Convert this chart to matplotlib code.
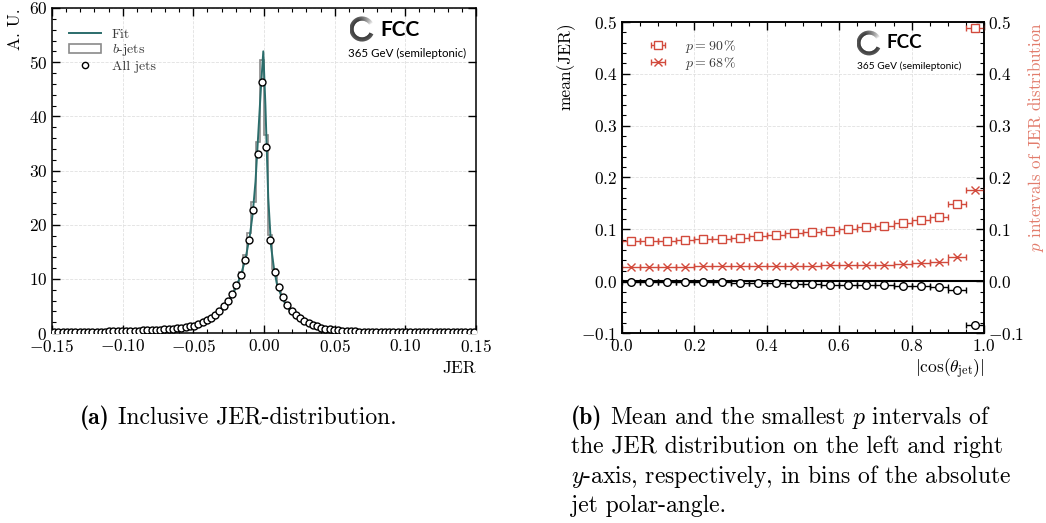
import numpy as np
import matplotlib
matplotlib.use("Agg")
import matplotlib.pyplot as plt
from matplotlib.collections import LineCollection
from matplotlib.patches import Patch
from matplotlib.lines import Line2D
from matplotlib.ticker import MultipleLocator

plt.rcParams.update({
    'font.family': 'serif',
    'font.serif': ['cmr10'],
    'mathtext.fontset': 'cm',
    'axes.formatter.use_mathtext': True,
    'axes.linewidth': 1.1,
})

# ---------------- data: left panel ----------------
jer_edges_lo, jer_edges_hi, n_bins = -0.15, 0.15, 100
all_jets = [
    0.15, 0.15, 0.16, 0.17, 0.18, 0.19, 0.20, 0.21, 0.22, 0.23,
    0.24, 0.25, 0.27, 0.28, 0.30, 0.32, 0.34, 0.36, 0.38, 0.41,
    0.44, 0.47, 0.50, 0.54, 0.58, 0.63, 0.68, 0.74, 0.81, 0.89,
    0.98, 1.09, 1.22, 1.38, 1.60, 1.95, 2.35, 2.80, 3.35, 4.05,
    4.90, 5.95, 7.15, 8.80, 10.8, 13.5, 17.2, 22.8, 33.0, 46.4,
    34.3, 17.1, 11.2, 8.45, 6.6, 5.25, 4.15, 3.35, 2.75, 2.25,
    1.85, 1.50, 1.25, 1.00, 0.82, 0.68, 0.57, 0.48, 0.42, 0.37,
    0.33, 0.30, 0.27, 0.25, 0.23, 0.21, 0.20, 0.19, 0.18, 0.17,
    0.17, 0.16, 0.155, 0.15, 0.145, 0.14, 0.135, 0.13, 0.128, 0.125,
    0.122, 0.12, 0.118, 0.115, 0.113, 0.11, 0.108, 0.106, 0.104, 0.10,
]
b_jets = [
    0.15, 0.15, 0.16, 0.17, 0.18, 0.19, 0.20, 0.21, 0.22, 0.23,
    0.24, 0.25, 0.27, 0.28, 0.30, 0.32, 0.34, 0.36, 0.38, 0.41,
    0.44, 0.47, 0.50, 0.54, 0.58, 0.63, 0.68, 0.74, 0.81, 0.89,
    0.98, 1.09, 1.22, 1.38, 1.60, 1.95, 2.35, 2.80, 3.35, 4.05,
    4.90, 5.95, 7.15, 8.80, 11.2, 14.4, 18.4, 24.2, 35.3, 50.4,
    36.5, 18.1, 11.9, 8.6, 6.6, 5.25, 4.15, 3.35, 2.75, 2.25,
    1.85, 1.50, 1.25, 1.00, 0.82, 0.68, 0.57, 0.48, 0.42, 0.37,
    0.33, 0.30, 0.27, 0.25, 0.23, 0.21, 0.20, 0.19, 0.18, 0.17,
    0.17, 0.16, 0.155, 0.15, 0.145, 0.14, 0.135, 0.13, 0.128, 0.125,
    0.122, 0.12, 0.118, 0.115, 0.113, 0.11, 0.108, 0.106, 0.104, 0.10,
]
fit_x = [-0.15, -0.12, -0.10, -0.08, -0.07, -0.06, -0.05, -0.045, -0.04, -0.035,
         -0.03, -0.025, -0.02, -0.016, -0.013, -0.010, -0.008, -0.006, -0.004,
         -0.002, -0.0005, 0.001, 0.003, 0.005, 0.007, 0.009, 0.012, 0.015, 0.018,
         0.022, 0.026, 0.03, 0.035, 0.04, 0.05, 0.06, 0.08, 0.10, 0.12, 0.15]
fit_y = [0.15, 0.23, 0.33, 0.52, 0.67, 0.92, 1.35, 1.75, 2.3, 3.1,
         4.3, 5.7, 8.3, 11.0, 13.8, 18.0, 22.0, 28.0, 37.0,
         46.0, 52.0, 42.0, 25.0, 16.0, 12.0, 9.2, 7.0, 5.4, 4.3,
         3.2, 2.5, 2.0, 1.45, 1.0, 0.57, 0.37, 0.20, 0.15, 0.12, 0.10]

# ---------------- data: right panel ----------------
cos_centers = [0.025, 0.075, 0.125, 0.175, 0.225, 0.275, 0.325, 0.375, 0.425, 0.475,
               0.525, 0.575, 0.625, 0.675, 0.725, 0.775, 0.825, 0.875, 0.925, 0.975]
cos_halfwidth = 0.025
mean_jer = [-0.001, -0.001, -0.0012, -0.0015, -0.002, -0.0025, -0.003, -0.0035, -0.0045, -0.005,
            -0.006, -0.0065, -0.007, -0.0075, -0.008, -0.009, -0.010, -0.012, -0.018, -0.085]
p90 = [0.078, 0.077, 0.078, 0.079, 0.081, 0.082, 0.084, 0.087, 0.089, 0.092,
       0.094, 0.097, 0.101, 0.105, 0.107, 0.113, 0.118, 0.124, 0.148, 0.488]
p68 = [0.028, 0.028, 0.028, 0.028, 0.029, 0.029, 0.029, 0.029, 0.030, 0.030,
       0.030, 0.031, 0.031, 0.032, 0.032, 0.033, 0.035, 0.037, 0.047, 0.176]

TEAL = '#2b6d6b'
RED = '#d24a3c'
RED_LABEL = '#e27c6c'
TXT_GRAY = '#3a3a3a'
TICK_FS = 12.5
CAP_FS = 17

W, H = 1046, 523
fig = plt.figure(figsize=(W / 100, H / 100), dpi=100)


def fx(px):
    return px / W


def fy(py):
    return 1 - py / H


def style_axes(ax):
    ax.tick_params(which='both', direction='in', top=True, labelsize=TICK_FS)
    ax.tick_params(which='major', length=6, width=1.0)
    ax.tick_params(which='minor', length=3, width=0.8)
    ax.grid(True, which='major', color='#e0e0e0', linestyle='--', linewidth=0.6)
    ax.set_axisbelow(True)


def fcc_logo(cx, cy, r, fcc_x, fcc_y, fcc_size, sub_x, sub_y, sub_size, lw):
    lax = fig.add_axes([fx(cx - r), fy(cy + r), fx(2 * r), (2 * r) / H])
    lax.set_xlim(-1.2, 1.2)
    lax.set_ylim(-1.2, 1.2)
    lax.set_aspect('equal')
    lax.axis('off')
    a0 = np.deg2rad(30)
    ang = np.linspace(a0, np.deg2rad(335), 150)
    pts = np.column_stack([np.cos(ang), np.sin(ang)])
    segs = np.stack([pts[:-1], pts[1:]], axis=1)
    t = np.clip((ang[:-1] - a0) / np.deg2rad(80), 0, 1) ** 0.7
    cols = [(0.95 * (1 - v),) * 3 for v in t]
    lax.add_collection(LineCollection(segs, colors=cols, linewidths=lw, capstyle='butt'))
    fig.text(fx(fcc_x), fy(fcc_y), 'FCC', fontsize=fcc_size, fontweight='bold',
             family='Lato', va='center', ha='left')
    fig.text(fx(sub_x), fy(sub_y), '365 GeV (semileptonic)', fontsize=sub_size,
             family='Lato', va='center', ha='left')


# ---------------- left panel ----------------
ax1 = fig.add_axes([fx(52), fy(333), fx(476 - 52), (333 - 8) / H])
edges = np.linspace(jer_edges_lo, jer_edges_hi, n_bins + 1)
centers = 0.5 * (edges[:-1] + edges[1:])
ax1.stairs(b_jets, edges, color='#8a8a8a', linewidth=1.2, zorder=2)
ax1.plot(fit_x, fit_y, color=TEAL, linewidth=1.4, zorder=3)
ax1.plot(centers, all_jets, 'o', mfc='white', mec='black', ms=5, mew=1.0, zorder=4)
ax1.set_xlim(-0.15, 0.15)
ax1.set_ylim(0, 60)
ax1.xaxis.set_major_locator(MultipleLocator(0.05))
ax1.xaxis.set_minor_locator(MultipleLocator(0.01))
ax1.yaxis.set_major_locator(MultipleLocator(10))
ax1.yaxis.set_minor_locator(MultipleLocator(2))
ax1.xaxis.set_major_formatter(plt.FuncFormatter(lambda v, p: r'$%.2f$' % v))
style_axes(ax1)
ax1.tick_params(right=True)
ax1.set_xlabel('JER', loc='right', fontsize=12.5, labelpad=4)
ax1.set_ylabel('A. U.', loc='top', fontsize=12.5, labelpad=4)
handles = [Line2D([], [], color=TEAL, lw=1.4),
           Patch(facecolor='white', edgecolor='#8a8a8a', linewidth=1.2),
           Line2D([], [], marker='o', ls='none', mfc='white', mec='black', ms=4.5, mew=1.0)]
leg1 = ax1.legend(handles, ['Fit', r'$b$-jets', 'All jets'], loc='upper left',
                  bbox_to_anchor=(0.0, 0.99), frameon=False, fontsize=10,
                  handlelength=2.3, labelspacing=0.12, borderaxespad=0.8)
for t in leg1.get_texts():
    t.set_color(TXT_GRAY)
fcc_logo(362, 29, 12.5, 380, 30, 15, 348, 53, 8.3, 3.0)

# ---------------- right panel ----------------
ax2 = fig.add_axes([fx(622), fy(333), fx(984 - 622), (333 - 22) / H])
ax3 = ax2.twinx()
ax2.axhline(0, color='black', linewidth=1.5, zorder=2)
ax2.errorbar(cos_centers, mean_jer, xerr=cos_halfwidth, fmt='o', color='black',
             mfc='white', mec='black', ms=5.5, mew=1.0, elinewidth=1.0, capsize=2.5, zorder=4)
ax3.errorbar(cos_centers, p90, xerr=cos_halfwidth, fmt='s', color=RED,
             mfc='white', mec=RED, ms=5.5, mew=1.0, elinewidth=1.0, capsize=2.5,
             label=r'$p = 90\,\%$')
ax3.errorbar(cos_centers, p68, xerr=cos_halfwidth, fmt='x', color=RED,
             ms=5.5, mew=1.0, elinewidth=1.0, capsize=2.5, label=r'$p = 68\,\%$')
for a in (ax2, ax3):
    a.set_xlim(0, 1.0)
    a.set_ylim(-0.1, 0.5)
    a.yaxis.set_major_locator(MultipleLocator(0.1))
    a.yaxis.set_minor_locator(MultipleLocator(0.02))
ax2.xaxis.set_major_locator(MultipleLocator(0.2))
ax2.xaxis.set_minor_locator(MultipleLocator(0.05))
style_axes(ax2)
ax2.tick_params(right=False)
ax3.tick_params(which='both', direction='in', labelsize=TICK_FS, pad=3)
ax3.tick_params(which='major', length=6, width=1.0)
ax3.tick_params(which='minor', length=3, width=0.8)
ax2.set_xlabel(r'$|\cos(\theta_{\rm jet})|$', loc='right', fontsize=12.5, labelpad=2)
ax2.set_ylabel('mean(JER)', loc='top', fontsize=12.5, labelpad=4)
ax3.set_ylabel(r'$p$ intervals of JER distribution', loc='top', fontsize=12.2,
               color=RED_LABEL)
ax3.yaxis.set_label_coords((1026 - 622) / (984 - 622), 1.0)
leg2 = ax3.legend(loc='upper left', bbox_to_anchor=(0.04, 0.99), frameon=False,
                  fontsize=10, handlelength=1.3, handletextpad=1.3, labelspacing=0.05)
for t in leg2.get_texts():
    t.set_color(TXT_GRAY)
fcc_logo(869, 43, 12.5, 887, 43, 13.5, 857, 66, 7.3, 2.8)

# ---------------- captions ----------------
renderer = fig.canvas.get_renderer()


def caption_line(x_px, y_px, bold_prefix, rest):
    x = fx(x_px)
    if bold_prefix:
        tb = fig.text(x, fy(y_px), bold_prefix, fontsize=CAP_FS, family='cmb10',
                      va='baseline', ha='left')
        bb = tb.get_window_extent(renderer)
        x = (bb.x1 + 8) / W
    fig.text(x, fy(y_px), rest, fontsize=CAP_FS, va='baseline', ha='left')


caption_line(80, 424, '(a)', 'Inclusive JER-distribution.')
caption_line(571, 424, '(b)', r'Mean and the smallest $p$ intervals of')
caption_line(571, 453, None, 'the JER distribution on the left and right')
caption_line(571, 483, None, r'$y$-axis, respectively, in bins of the absolute')
caption_line(571, 512, None, 'jet polar-angle.')

fig.savefig('out.png', dpi=100)
